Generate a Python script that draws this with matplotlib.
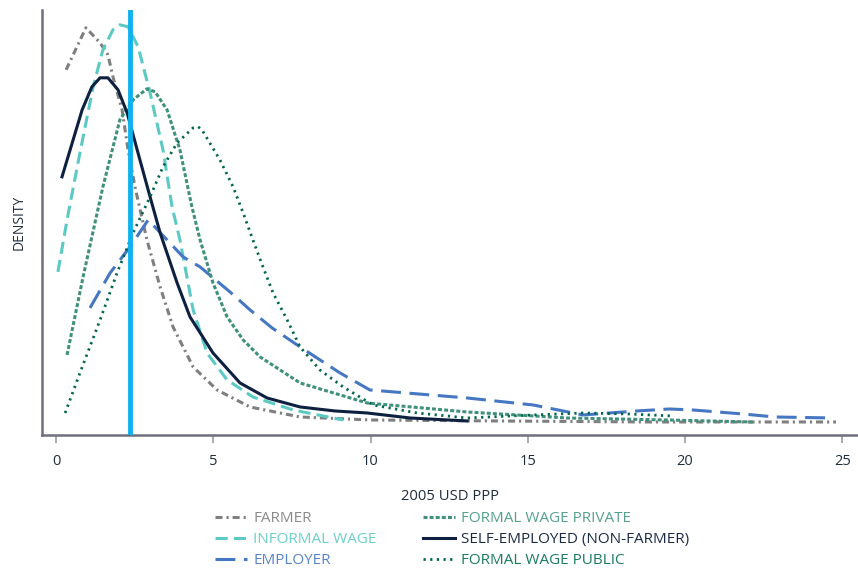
import matplotlib
matplotlib.use("Agg")
import matplotlib.pyplot as plt

plt.rcParams['font.family'] = ['Open Sans', 'DejaVu Sans']

# Hourly earnings (2005 USD PPP) and estimated density by employment type
farmer_x = [0.32, 0.95, 1.40, 1.65, 1.81, 2.10, 2.29, 2.51, 2.89, 3.31, 3.72, 4.36, 5.12, 6.17, 7.76, 10.0, 14.1, 18.9, 24.8]
farmer_y = [0.365, 0.407, 0.392, 0.380, 0.358, 0.325, 0.285, 0.248, 0.195, 0.148, 0.108, 0.068, 0.045, 0.028, 0.018, 0.015, 0.014, 0.013, 0.013]

informal_x = [0.06, 0.35, 0.76, 1.18, 1.49, 1.81, 2.03, 2.29, 2.61, 2.99, 3.40, 3.69, 3.94, 4.36, 4.80, 5.44, 6.26, 7.54, 9.13]
informal_y = [0.163, 0.215, 0.282, 0.348, 0.385, 0.405, 0.410, 0.408, 0.388, 0.342, 0.285, 0.228, 0.195, 0.125, 0.082, 0.055, 0.038, 0.025, 0.015]

employer_x = [1.08, 1.72, 2.35, 2.93, 4.04, 4.58, 5.53, 6.17, 6.87, 7.76, 9.03, 9.98, 13.07, 15.17, 16.76, 18.47, 19.5, 20.25, 21.84, 22.86, 24.71]
employer_y = [0.127, 0.162, 0.188, 0.215, 0.178, 0.168, 0.143, 0.125, 0.107, 0.088, 0.062, 0.045, 0.037, 0.030, 0.020, 0.024, 0.026, 0.025, 0.021, 0.018, 0.017]

private_x = [0.35, 0.86, 1.49, 2.03, 2.45, 2.89, 3.15, 3.53, 3.94, 4.32, 4.58, 4.99, 5.44, 5.95, 6.49, 7.76, 9.89, 13.07, 16.25, 19.43, 22.15]
private_y = [0.080, 0.158, 0.248, 0.315, 0.335, 0.346, 0.343, 0.325, 0.285, 0.228, 0.195, 0.152, 0.118, 0.095, 0.078, 0.052, 0.032, 0.023, 0.017, 0.015, 0.013]

selfemp_x = [0.19, 0.83, 1.14, 1.40, 1.65, 1.97, 2.26, 2.58, 2.99, 3.31, 3.85, 4.26, 4.99, 5.85, 6.71, 7.76, 8.87, 9.89, 11.26, 13.07]
selfemp_y = [0.258, 0.325, 0.348, 0.357, 0.357, 0.345, 0.322, 0.285, 0.238, 0.202, 0.152, 0.118, 0.082, 0.052, 0.037, 0.028, 0.024, 0.022, 0.017, 0.014]

public_x = [0.29, 0.76, 1.40, 1.94, 2.45, 2.99, 3.40, 3.85, 4.36, 4.52, 4.64, 5.21, 5.63, 5.95, 6.26, 6.58, 6.90, 7.35, 7.76, 8.39, 9.13, 10.08, 11.48, 13.07, 15.17, 16.76, 18.2, 19.6]
public_y = [0.022, 0.062, 0.115, 0.162, 0.202, 0.238, 0.268, 0.292, 0.307, 0.308, 0.305, 0.275, 0.248, 0.222, 0.195, 0.168, 0.142, 0.115, 0.088, 0.065, 0.048, 0.030, 0.022, 0.017, 0.020, 0.022, 0.021, 0.019]

poverty_line = 2.35

fig = plt.figure(figsize=(8.58, 5.75), dpi=100)
ax = fig.add_axes([0.049, 0.2435, 0.951, 0.7395])

c_farmer = '#7f7f7f'
c_informal = '#5ccac4'
c_employer = '#4677c2'
c_private = '#3f917b'
c_self = '#0d2040'
c_public = '#00674d'

txt_colors = ['#8a8a8a', '#6ccfca', '#5784c8', '#55a18c', '#1c2b44', '#1b7a5f']

ax.plot(farmer_x, farmer_y, color=c_farmer, lw=2.2, dashes=(2.3, 1.3, 0.7, 1.3), label='FARMER')
ax.plot(informal_x, informal_y, color=c_informal, lw=2.2, dashes=(4, 2), label='INFORMAL WAGE')
ax.plot(employer_x, employer_y, color=c_employer, lw=2.2, dashes=(6.5, 2.8), label='EMPLOYER')
ax.plot(private_x, private_y, color=c_private, lw=2.2, dashes=(1.3, 0.7), label='FORMAL WAGE PRIVATE')
ax.plot(selfemp_x, selfemp_y, color=c_self, lw=2.2, label='SELF-EMPLOYED (NON-FARMER)')
ax.plot(public_x, public_y, color=c_public, lw=2.0, dashes=(0.8, 1.6), label='FORMAL WAGE PUBLIC')

ax.axvline(poverty_line, color='#0fb2ee', lw=3.5, zorder=5)

ax.set_xlim(-0.445, 25.5)
ax.set_ylim(0, 0.425)
ax.set_xticks([0, 5, 10, 15, 20, 25])
ax.set_yticks([])
for s in ['top', 'right']:
    ax.spines[s].set_visible(False)
for s in ['left', 'bottom']:
    ax.spines[s].set_color('#6f6f80')
    ax.spines[s].set_linewidth(1.8)
ax.tick_params(axis='x', colors='#9a9aa6', length=6, width=1.2, labelsize=10.5,
               labelcolor='#1f2d3d', pad=8)

ax.set_xlabel('2005 USD PPP', fontsize=10.6, color='#1f2d3d', labelpad=14)
ax.set_ylabel('DENSITY', fontsize=10, color='#1f2d3d', labelpad=11)

handles, labels = ax.get_legend_handles_labels()
leg = fig.legend(handles, labels, ncol=2, loc='upper center', bbox_to_anchor=(0.527, 0.122),
                 frameon=False, fontsize=11, handlelength=2.1, handletextpad=0.4,
                 columnspacing=3.0, labelspacing=0.4, borderaxespad=0)
for t, c in zip(leg.get_texts(), txt_colors):
    t.set_color(c)

fig.savefig('out.png', dpi=100)
